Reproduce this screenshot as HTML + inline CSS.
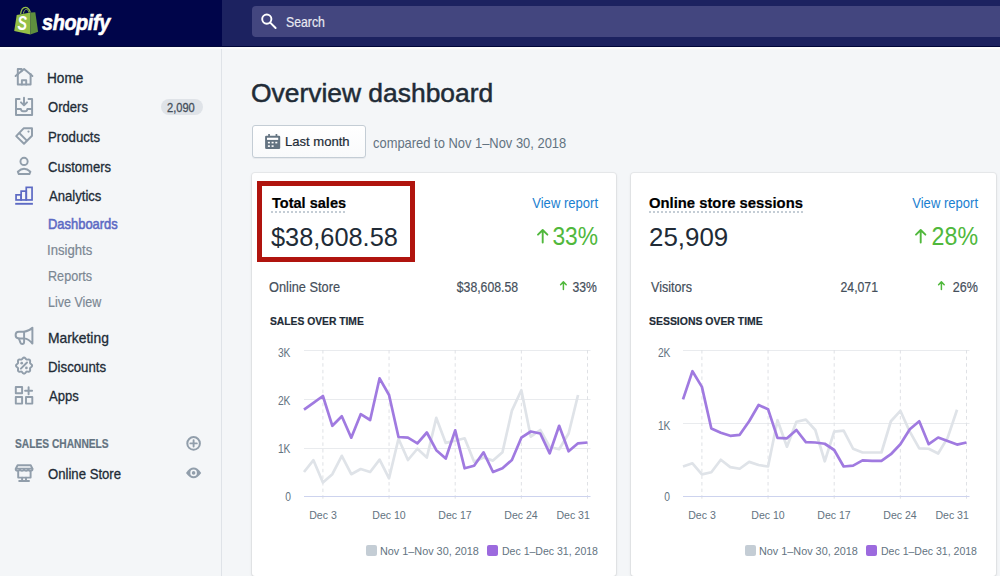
<!DOCTYPE html><html><head><meta charset="utf-8"><style>
html,body{margin:0;padding:0;width:1000px;height:576px;overflow:hidden;background:#f4f6f8;font-family:"Liberation Sans", sans-serif;}
.t{position:absolute;white-space:nowrap;-webkit-text-stroke:0.2px currentColor;}
.r{position:absolute;}
</style></head><body>
<div class="r" style="left:0px;top:49px;width:221px;height:527px;background:#f4f6f8;"></div>
<div class="r" style="left:221px;top:49px;width:1px;height:527px;background:#dfe3e8;"></div>
<div class="r" style="left:0px;top:0px;width:1000px;height:46px;background:#1c2260;"></div>
<div class="r" style="left:0px;top:0px;width:222px;height:46px;background:#00054a;"></div>
<div class="r" style="left:0px;top:46px;width:1000px;height:1px;background:#000639;"></div>
<div class="r" style="left:0px;top:47px;width:1000px;height:2px;background:#fbfbfc;"></div>
<div class="r" style="left:252px;top:6px;width:760px;height:30.5px;background:#43467f;border-radius:4px;"></div>
<div class="t" style="top:15.22px;font-size:14.5px;line-height:14.5px;color:#e8e9f1;left:285.68px;transform:scale(0.8471,1.0);transform-origin:0 0;">Search</div>
<div class="t" style="top:11.97px;font-size:22px;line-height:22px;color:#fff;font-weight:700;left:42px;transform:scale(0.9,1.0);transform-origin:0 0;-webkit-text-stroke:0;font-style:italic;letter-spacing:-0.4px;-webkit-text-stroke:0.6px #fff;">shopify</div>
<svg class="r" style="left:0;top:0" width="1000" height="576" viewBox="0 0 1000 576">
<g fill="none" stroke="#fff" stroke-width="1.9">
<circle cx="266.8" cy="19.1" r="4.6"/><path d="M270.2 22.6 L275.6 28" stroke-linecap="round" stroke-width="2"/>
</g>
<g>
<path d="M16.7 15 L30.6 12.6 L30.4 34.4 L14.2 31.1 Z" fill="#95bf47"/>
<path d="M30.6 12.6 L35.3 12.2 L38.1 31.7 L30.4 34.4 Z" fill="#5e8e3e"/>
<path d="M20.6 14.2 C21.2 9.6 23.2 7.4 25.3 7.4 C27.4 7.4 29.4 9.2 30.2 12.4" fill="none" stroke="#95bf47" stroke-width="1.3"/>
<path d="M23.3 13.6 C23.8 11 24.8 9.6 26.3 9.4 C27.6 9.3 28.4 10.4 28.8 12.6" fill="none" stroke="#95bf47" stroke-width="0.9"/>
<text transform="translate(17.6 30.4) scale(0.74 1)" font-family="Liberation Sans" font-weight="700" font-style="italic" font-size="19.3" fill="#fff">S</text>
</g>
<g fill="none" stroke="#919eab" stroke-width="1.95" stroke-linejoin="round" stroke-linecap="round">
<path d="M15.6 76 L24.1 68.9 L32.4 76"/>
<path d="M17.8 73.5 V84.4 H30.6 V74"/>
<path d="M21.9 84.4 V80.3 H26.2 V84.4"/>
<path d="M17.8 74 V69 H21.6 V71.2"/>
<path d="M19.6 99 H16 V114.9 H32.1 V99 H28.5"/>
<path d="M24 97.7 V105.2 M21 102.4 L24 105.4 L27 102.4"/>
<path d="M16 108.9 H20.8 Q21.3 111.3 23 111.3 H25.3 Q27 111.3 27.4 108.9 H32.1"/>
<path d="M23.6 128.3 H32 V135.8 L24 143.8 L16.2 136.1 Z"/>
<path d="M19.5 133.2 L26.6 140.4"/>
<circle cx="24.06" cy="161.4" r="3.6"/>
<path d="M17.8 171.7 Q24 166 30.4 171.7 L29.4 174 H18.8 Z"/>

<path d="M32.4 327.8 V343.6 Q29 339 24.1 338.4 H18.8 Q15.6 338.4 15.6 335 Q15.6 331.7 18.8 331.7 H24.1 Q29 331.2 32.4 327.8 Z"/>
<path d="M24.1 331.7 V342 Q24.1 344 22.2 344 Q20.9 344 20.4 342.7 L18.9 338.5"/>
<path d="M24.06 357.55 L24.58 357.67 L25.06 357.99 L25.48 358.44 L25.85 358.91 L26.20 359.30 L26.57 359.55 L27.00 359.64 L27.52 359.60 L28.12 359.53 L28.73 359.51 L29.30 359.62 L29.75 359.91 L30.04 360.36 L30.15 360.93 L30.13 361.54 L30.06 362.14 L30.02 362.66 L30.11 363.09 L30.36 363.46 L30.75 363.81 L31.22 364.18 L31.67 364.60 L31.99 365.08 L32.11 365.60 L31.99 366.12 L31.67 366.60 L31.22 367.02 L30.75 367.39 L30.36 367.74 L30.11 368.11 L30.02 368.54 L30.06 369.06 L30.13 369.66 L30.15 370.27 L30.04 370.84 L29.75 371.29 L29.30 371.58 L28.73 371.69 L28.12 371.67 L27.52 371.60 L27.00 371.56 L26.57 371.65 L26.20 371.90 L25.85 372.29 L25.48 372.76 L25.06 373.21 L24.58 373.53 L24.06 373.65 L23.54 373.53 L23.06 373.21 L22.64 372.76 L22.27 372.29 L21.92 371.90 L21.55 371.65 L21.12 371.56 L20.60 371.60 L20.00 371.67 L19.39 371.69 L18.82 371.58 L18.37 371.29 L18.08 370.84 L17.97 370.27 L17.99 369.66 L18.06 369.06 L18.10 368.54 L18.01 368.11 L17.76 367.74 L17.37 367.39 L16.90 367.02 L16.45 366.60 L16.13 366.12 L16.01 365.60 L16.13 365.08 L16.45 364.60 L16.90 364.18 L17.37 363.81 L17.76 363.46 L18.01 363.09 L18.10 362.66 L18.06 362.14 L17.99 361.54 L17.97 360.93 L18.08 360.36 L18.37 359.91 L18.82 359.62 L19.39 359.51 L20.00 359.53 L20.60 359.60 L21.12 359.64 L21.55 359.55 L21.92 359.30 L22.27 358.91 L22.64 358.44 L23.06 357.99 L23.54 357.67 Z"/>
<path d="M20.9 368.6 L27 362.5" stroke-linecap="round"/>
<rect x="15.8" y="386.9" width="6.3" height="6.3"/>
<rect x="15.8" y="397" width="6.3" height="6.6"/>
<rect x="26" y="397" width="6.3" height="6.6"/>
<path d="M25.1 390.7 H32.1 M28.6 387.2 V394.2"/>
<path d="M17.6 465.3 H30.8 L32.5 469 Q32.5 470.8 30.6 470.8 Q28.6 470.8 28.3 469 Q28 470.8 26.2 470.8 Q24.3 470.8 24.1 469 Q23.9 470.8 22 470.8 Q20.1 470.8 19.9 469 Q19.5 470.8 17.6 470.8 Q15.7 470.8 15.7 469 Z" stroke-linejoin="round"/>
<path d="M16 468.6 H32.3"/>
<path d="M18.2 471.5 V477.6 H30.6 V471.5"/>
<path d="M22.1 477.6 V480.6 M26 477.6 V480.6 M19.2 480.9 H29"/>
<circle cx="193.6" cy="443.4" r="6.3" stroke-width="2"/>
<path d="M193.6 440.2 V446.6 M190.4 443.4 H196.8" stroke-width="1.9"/>
</g>
<g fill="#919eab">
<circle cx="21.7" cy="363.2" r="1.35"/><circle cx="26.4" cy="367.9" r="1.35"/>
<circle cx="28.5" cy="131.6" r="1.1"/>
<path d="M186 472.9 Q193.6 462.3 201.2 472.9 Q193.6 483.5 186 472.9 Z"/>
</g>
<circle cx="193.6" cy="472.9" r="3.3" fill="#f4f6f8"/><circle cx="193.6" cy="472.9" r="1.8" fill="#919eab"/>
<g fill="none" stroke="#5c6ac4" stroke-width="1.7">
<rect x="16.05" y="194.85" width="5.1" height="5.1"/>
<rect x="21.15" y="191.15" width="5.1" height="8.8"/>
<rect x="26.25" y="187.35" width="5.8" height="12.6"/>
<path d="M15.2 203.8 H32.9" stroke-width="1.9"/>
</g>
</svg>
<div class="t" style="top:71.02px;font-size:14.5px;line-height:14.5px;color:#212b36;left:47.43px;transform:scale(0.9374,1.0);transform-origin:0 0;-webkit-text-stroke:0.3px #212b36;">Home</div>
<div class="t" style="top:100.42px;font-size:14.5px;line-height:14.5px;color:#212b36;left:48.41px;transform:scale(0.9014,1.0);transform-origin:0 0;-webkit-text-stroke:0.3px #212b36;">Orders</div>
<div class="t" style="top:130.02px;font-size:14.5px;line-height:14.5px;color:#212b36;left:47.73px;transform:scale(0.9103,1.0);transform-origin:0 0;-webkit-text-stroke:0.3px #212b36;">Products</div>
<div class="t" style="top:160.02px;font-size:14.5px;line-height:14.5px;color:#212b36;left:47.78px;transform:scale(0.8997,1.0);transform-origin:0 0;-webkit-text-stroke:0.3px #212b36;">Customers</div>
<div class="t" style="top:189.42px;font-size:14.5px;line-height:14.5px;color:#212b36;left:48.72px;transform:scale(0.903,1.0);transform-origin:0 0;-webkit-text-stroke:0.3px #212b36;">Analytics</div>
<div class="t" style="top:216.72px;font-size:14.5px;line-height:14.5px;color:#5c6ac4;left:48.0px;transform:scale(0.8919,1.0);transform-origin:0 0;-webkit-text-stroke:0.55px #5c6ac4;">Dashboards</div>
<div class="t" style="top:242.82px;font-size:14.5px;line-height:14.5px;color:#7b8793;left:47.28px;transform:scale(0.9049,1.0);transform-origin:0 0;">Insights</div>
<div class="t" style="top:268.82px;font-size:14.5px;line-height:14.5px;color:#7b8793;left:47.84px;transform:scale(0.8702,1.0);transform-origin:0 0;">Reports</div>
<div class="t" style="top:294.82px;font-size:14.5px;line-height:14.5px;color:#7b8793;left:47.96px;transform:scale(0.8613,1.0);transform-origin:0 0;">Live View</div>
<div class="t" style="top:330.72px;font-size:14.5px;line-height:14.5px;color:#212b36;left:47.76px;transform:scale(0.9555,1.0);transform-origin:0 0;-webkit-text-stroke:0.3px #212b36;">Marketing</div>
<div class="t" style="top:359.92px;font-size:14.5px;line-height:14.5px;color:#212b36;left:47.77px;transform:scale(0.9136,1.0);transform-origin:0 0;-webkit-text-stroke:0.3px #212b36;">Discounts</div>
<div class="t" style="top:389.32px;font-size:14.5px;line-height:14.5px;color:#212b36;left:48.72px;transform:scale(0.9006,1.0);transform-origin:0 0;-webkit-text-stroke:0.3px #212b36;">Apps</div>
<div class="t" style="top:437.94px;font-size:12px;line-height:12px;color:#637381;font-weight:700;left:14.6px;transform:scale(0.8515,1.0);transform-origin:0 0;">SALES CHANNELS</div>
<div class="t" style="top:467.32px;font-size:14.5px;line-height:14.5px;color:#212b36;left:47.8px;transform:scale(0.9062,1.0);transform-origin:0 0;-webkit-text-stroke:0.3px #212b36;">Online Store</div>
<div class="r" style="left:161px;top:99px;width:42px;height:16px;background:#dfe3e8;border-radius:8px;"></div>
<div class="t" style="top:101.59px;font-size:12.3px;line-height:12.3px;color:#454f5b;left:167.42px;transform:scale(0.9023,1.0);transform-origin:0 0;-webkit-text-stroke:0.3px #454f5b;">2,090</div>
<div class="t" style="top:80.05px;font-size:26.4px;line-height:26.4px;color:#212b36;left:251.35px;transform:scale(1.0005,1.0);transform-origin:0 0;-webkit-text-stroke:0;-webkit-text-stroke:0.5px #212b36;">Overview dashboard</div>
<div class="r" style="left:252px;top:125px;width:114px;height:33px;background:linear-gradient(#fff,#f9fafb);box-sizing:border-box;border:1px solid #c4cdd5;border-radius:3px;box-shadow:0 1px 0 0 rgba(22,29,37,.05);"></div>
<svg class="r" style="left:0;top:0" width="400" height="200" viewBox="0 0 400 200">
<rect x="265.1" y="135.8" width="15.1" height="13.1" rx="1.2" fill="#637381"/>
<rect x="268.2" y="134" width="1.7" height="3" fill="#637381"/><rect x="275.6" y="134" width="1.7" height="3" fill="#637381"/>
<g fill="#fff"><rect x="267" y="137.7" width="11.2" height="2.2"/>
<rect x="267.9" y="141.8" width="2" height="1.6"/><rect x="271.6" y="141.8" width="2" height="1.6"/><rect x="275.3" y="141.8" width="2" height="1.6"/>
<rect x="267.9" y="145.3" width="2" height="1.6"/><rect x="271.6" y="145.3" width="2" height="1.6"/></g>
</svg>
<div class="t" style="top:135.47px;font-size:13.5px;line-height:13.5px;color:#212b36;left:285.42px;transform:scale(0.9672,1.0);transform-origin:0 0;">Last month</div>
<div class="t" style="top:135.67px;font-size:14.8px;line-height:14.8px;color:#637381;left:372.86px;transform:scale(0.8731,1.0);transform-origin:0 0;-webkit-text-stroke:0;">compared to Nov 1–Nov 30, 2018</div>
<div class="r" style="left:252px;top:173px;width:364px;height:403px;background:#fff;border-radius:3px;box-shadow:0 0 0 1px rgba(63,63,68,.06),0 1px 3px 0 rgba(63,63,68,.15);"></div>
<div class="t" style="top:194.98px;font-size:15.5px;line-height:15.5px;color:#000;font-weight:700;left:271.6px;transform:scale(0.938,1.0);transform-origin:0 0;">Total sales</div>
<div class="r" style="left:271px;top:211px;width:75px;height:1.5px;background:repeating-linear-gradient(90deg,#c4cdd5 0 2px,transparent 2px 4px);"></div>
<div class="t" style="top:196.26px;font-size:14.1px;line-height:14.1px;color:#1a80d0;right:402.45px;transform:scale(0.926,1.0);transform-origin:100% 0;-webkit-text-stroke:0;">View report</div>
<div class="t" style="top:224.93px;font-size:25px;line-height:25px;color:#212b36;left:270.84000000000003px;transform:scale(1.0136,1.0);transform-origin:0 0;-webkit-text-stroke:0;">$38,608.58</div>
<div class="t" style="top:223.91px;font-size:25.5px;line-height:25.5px;color:#50b83c;right:401.67px;transform:scale(0.8942,1.0);transform-origin:100% 0;-webkit-text-stroke:0;">33%</div>
<div class="t" style="top:280.41px;font-size:14.4px;line-height:14.4px;color:#454f5b;left:269.36px;transform:scale(0.8884,1.0);transform-origin:0 0;">Online Store</div>
<div class="t" style="top:280.31px;font-size:14.4px;line-height:14.4px;color:#454f5b;right:482.27px;transform:scale(0.8503,1.0);transform-origin:100% 0;">$38,608.58</div>
<div class="t" style="top:280.31px;font-size:14.4px;line-height:14.4px;color:#454f5b;right:403.00px;transform:scale(0.8459,1.0);transform-origin:100% 0;">33%</div>
<div class="t" style="top:316.11px;font-size:11.8px;line-height:11.8px;color:#212b36;font-weight:700;left:270.06px;transform:scale(0.8726,1.0);transform-origin:0 0;">SALES OVER TIME</div>
<svg class="r" style="left:0;top:0" width="1000" height="576" viewBox="0 0 1000 576"><g fill="none" stroke="#50b83c" stroke-linecap="round" stroke-linejoin="round">
<path d="M542.7 242.6 V230.4 M538.0 234.7 L542.7 230.0 L547.4 234.7" stroke-width="1.9"/>
<path d="M563.4 289.5 V282.2 M560.6 284.7 L563.4 281.9 L566.2 284.7" stroke-width="1.5"/>
</g></svg>
<div class="r" style="left:631px;top:173px;width:365px;height:403px;background:#fff;border-radius:3px;box-shadow:0 0 0 1px rgba(63,63,68,.06),0 1px 3px 0 rgba(63,63,68,.15);"></div>
<div class="t" style="top:194.98px;font-size:15.5px;line-height:15.5px;color:#000;font-weight:700;left:649.1700000000001px;transform:scale(0.9556,1.0);transform-origin:0 0;">Online store sessions</div>
<div class="r" style="left:649px;top:211px;width:154px;height:1.5px;background:repeating-linear-gradient(90deg,#c4cdd5 0 2px,transparent 2px 4px);"></div>
<div class="t" style="top:196.26px;font-size:14.1px;line-height:14.1px;color:#1a80d0;right:22.45px;transform:scale(0.926,1.0);transform-origin:100% 0;-webkit-text-stroke:0;">View report</div>
<div class="t" style="top:224.93px;font-size:25px;line-height:25px;color:#212b36;left:649.48px;transform:scale(1.0362,1.0);transform-origin:0 0;-webkit-text-stroke:0;">25,909</div>
<div class="t" style="top:223.91px;font-size:25.5px;line-height:25.5px;color:#50b83c;right:22.08px;transform:scale(0.9105,1.0);transform-origin:100% 0;-webkit-text-stroke:0;">28%</div>
<div class="t" style="top:280.41px;font-size:14.4px;line-height:14.4px;color:#454f5b;left:650.7px;transform:scale(0.8721,1.0);transform-origin:0 0;">Visitors</div>
<div class="t" style="top:280.31px;font-size:14.4px;line-height:14.4px;color:#454f5b;right:122.40px;transform:scale(0.8526,1.0);transform-origin:100% 0;">24,071</div>
<div class="t" style="top:280.31px;font-size:14.4px;line-height:14.4px;color:#454f5b;right:22.47px;transform:scale(0.8716,1.0);transform-origin:100% 0;">26%</div>
<div class="t" style="top:316.11px;font-size:11.8px;line-height:11.8px;color:#212b36;font-weight:700;left:649.02px;transform:scale(0.8854,1.0);transform-origin:0 0;">SESSIONS OVER TIME</div>
<svg class="r" style="left:0;top:0" width="1000" height="576" viewBox="0 0 1000 576"><g fill="none" stroke="#50b83c" stroke-linecap="round" stroke-linejoin="round">
<path d="M920.7 242.6 V230.4 M916.0 234.7 L920.7 230.0 L925.4 234.7" stroke-width="1.9"/>
<path d="M941.4 289.5 V282.2 M938.6 284.7 L941.4 281.9 L944.2 284.7" stroke-width="1.5"/>
</g></svg>
<svg class="r" style="left:0px;top:0px" width="1000" height="576" viewBox="0 0 1000 576"><line x1="304" y1="350.5" x2="590.5" y2="350.5" stroke="#e9ebee" stroke-width="1"/><line x1="304" y1="399.5" x2="590.5" y2="399.5" stroke="#e9ebee" stroke-width="1"/><line x1="304" y1="448.5" x2="590.5" y2="448.5" stroke="#e9ebee" stroke-width="1"/><line x1="322.90" y1="350" x2="322.90" y2="500" stroke="#dfe1e5" stroke-width="1" stroke-dasharray="3.5 3.1"/><line x1="389.05" y1="350" x2="389.05" y2="500" stroke="#dfe1e5" stroke-width="1" stroke-dasharray="3.5 3.1"/><line x1="455.20" y1="350" x2="455.20" y2="500" stroke="#dfe1e5" stroke-width="1" stroke-dasharray="3.5 3.1"/><line x1="521.35" y1="350" x2="521.35" y2="500" stroke="#dfe1e5" stroke-width="1" stroke-dasharray="3.5 3.1"/><line x1="587.50" y1="350" x2="587.50" y2="500" stroke="#dfe1e5" stroke-width="1" stroke-dasharray="3.5 3.1"/><line x1="304" y1="496.5" x2="590.5" y2="496.5" stroke="#cdd3ee" stroke-width="1"/><polyline points="304.00,472 313.45,460.2 322.90,482.5 332.35,474.2 341.80,455.8 351.25,474.2 360.70,469 370.15,472 379.60,459.6 389.05,478.3 398.50,438.75 407.95,460 417.40,448.75 426.85,457.5 436.30,417.9 445.75,442.9 455.20,440.8 464.65,438.3 474.10,461.7 483.55,457.5 493.00,460.6 502.45,452.3 511.90,410.6 521.35,390.2 530.80,436.7 540.25,430 549.70,447 559.15,449.2 568.60,433.5 578.05,395" fill="none" stroke="#dfe3e8" stroke-width="2.7" stroke-linejoin="round"/><polyline points="304.00,409.6 313.45,402.9 322.90,396 332.35,425.8 341.80,416.3 351.25,437.7 360.70,414.2 370.15,420 379.60,378.3 389.05,395 398.50,437 407.95,437.7 417.40,443.3 426.85,432.5 436.30,450.2 445.75,458.5 455.20,430.4 464.65,468.3 474.10,465.8 483.55,452.3 493.00,472 502.45,468.3 511.90,460 521.35,437.7 530.80,431.5 540.25,433.5 549.70,453.3 559.15,425.8 568.60,451.25 578.05,443.3 587.50,442.5" fill="none" stroke="#a07ae0" stroke-width="2.7" stroke-linejoin="round"/></svg>
<div class="t" style="top:346.63px;font-size:12.6px;line-height:12.6px;color:#637381;right:709.11px;transform:scale(0.8131,1.0);transform-origin:100% 0;-webkit-text-stroke:0;">3K</div>
<div class="t" style="top:395.43px;font-size:12.6px;line-height:12.6px;color:#637381;right:709.11px;transform:scale(0.8131,1.0);transform-origin:100% 0;-webkit-text-stroke:0;">2K</div>
<div class="t" style="top:443.33px;font-size:12.6px;line-height:12.6px;color:#637381;right:709.11px;transform:scale(0.8131,1.0);transform-origin:100% 0;-webkit-text-stroke:0;">1K</div>
<div class="t" style="top:491.43px;font-size:12.6px;line-height:12.6px;color:#637381;right:709.11px;transform:scale(0.8131,1.0);transform-origin:100% 0;-webkit-text-stroke:0;">0</div>
<div class="t" style="left:282.90px;width:80px;text-align:center;top:509.99px;font-size:11px;line-height:11px;color:#637381;transform:scaleX(0.96);-webkit-text-stroke:0;">Dec 3</div>
<div class="t" style="left:349.05px;width:80px;text-align:center;top:509.99px;font-size:11px;line-height:11px;color:#637381;transform:scaleX(0.96);-webkit-text-stroke:0;">Dec 10</div>
<div class="t" style="left:415.20px;width:80px;text-align:center;top:509.99px;font-size:11px;line-height:11px;color:#637381;transform:scaleX(0.96);-webkit-text-stroke:0;">Dec 17</div>
<div class="t" style="left:481.35px;width:80px;text-align:center;top:509.99px;font-size:11px;line-height:11px;color:#637381;transform:scaleX(0.96);-webkit-text-stroke:0;">Dec 24</div>
<div class="t" style="top:509.99px;font-size:11px;line-height:11px;color:#637381;right:409.87px;transform:scale(0.96,1.0);transform-origin:100% 0;-webkit-text-stroke:0;">Dec 31</div>
<div class="r" style="left:366px;top:545.2px;width:10.5px;height:10.5px;background:#c4cdd5;border-radius:2px;"></div>
<div class="t" style="top:545.56px;font-size:10.8px;line-height:10.8px;color:#637381;left:379.8px;transform:scale(1.0035,1.0);transform-origin:0 0;-webkit-text-stroke:0;">Nov 1–Nov 30, 2018</div>
<div class="r" style="left:487px;top:545.2px;width:10.5px;height:10.5px;background:#9c6ade;border-radius:2px;"></div>
<div class="t" style="top:545.56px;font-size:10.8px;line-height:10.8px;color:#637381;left:501.69px;transform:scale(0.975,1.0);transform-origin:0 0;-webkit-text-stroke:0;">Dec 1–Dec 31, 2018</div>
<svg class="r" style="left:0px;top:0px" width="1000" height="576" viewBox="0 0 1000 576"><line x1="683" y1="350.5" x2="969.5" y2="350.5" stroke="#e9ebee" stroke-width="1"/><line x1="683" y1="423.5" x2="969.5" y2="423.5" stroke="#e9ebee" stroke-width="1"/><line x1="701.90" y1="350" x2="701.90" y2="500" stroke="#dfe1e5" stroke-width="1" stroke-dasharray="3.5 3.1"/><line x1="768.05" y1="350" x2="768.05" y2="500" stroke="#dfe1e5" stroke-width="1" stroke-dasharray="3.5 3.1"/><line x1="834.20" y1="350" x2="834.20" y2="500" stroke="#dfe1e5" stroke-width="1" stroke-dasharray="3.5 3.1"/><line x1="900.35" y1="350" x2="900.35" y2="500" stroke="#dfe1e5" stroke-width="1" stroke-dasharray="3.5 3.1"/><line x1="966.50" y1="350" x2="966.50" y2="500" stroke="#dfe1e5" stroke-width="1" stroke-dasharray="3.5 3.1"/><line x1="683" y1="496.5" x2="969.5" y2="496.5" stroke="#cdd3ee" stroke-width="1"/><polyline points="683.00,466.5 692.45,463.3 701.90,474.4 711.35,472.3 720.80,459.8 730.25,467.1 739.70,468.75 749.15,461.9 758.60,465 768.05,466.5 777.50,420.2 786.95,446.7 796.40,421.7 805.85,419.6 815.30,430 824.75,461.25 834.20,431.7 843.65,430.6 853.10,448.75 862.55,452.5 872.00,452.5 881.45,452.5 890.90,421.25 900.35,410.8 909.80,431.7 919.25,448.3 928.70,448.75 938.15,453.5 947.60,437.9 957.05,409.8" fill="none" stroke="#dfe3e8" stroke-width="2.7" stroke-linejoin="round"/><polyline points="683.00,399.4 692.45,371.25 701.90,386.9 711.35,428.5 720.80,432.7 730.25,435.8 739.70,434.8 749.15,421.25 758.60,405 768.05,409.2 777.50,437.9 786.95,438.3 796.40,430 805.85,442.1 815.30,442.5 824.75,443.75 834.20,450 843.65,466.5 853.10,465.6 862.55,460.4 872.00,460.8 881.45,460.8 890.90,454.2 900.35,444.2 909.80,429.2 919.25,421.25 928.70,444.2 938.15,437.5 947.60,441 957.05,444.6 966.50,442.5" fill="none" stroke="#a07ae0" stroke-width="2.7" stroke-linejoin="round"/></svg>
<div class="t" style="top:346.63px;font-size:12.6px;line-height:12.6px;color:#637381;right:329.71px;transform:scale(0.8131,1.0);transform-origin:100% 0;-webkit-text-stroke:0;">2K</div>
<div class="t" style="top:419.83px;font-size:12.6px;line-height:12.6px;color:#637381;right:329.71px;transform:scale(0.8131,1.0);transform-origin:100% 0;-webkit-text-stroke:0;">1K</div>
<div class="t" style="top:491.43px;font-size:12.6px;line-height:12.6px;color:#637381;right:329.71px;transform:scale(0.8131,1.0);transform-origin:100% 0;-webkit-text-stroke:0;">0</div>
<div class="t" style="left:661.90px;width:80px;text-align:center;top:509.99px;font-size:11px;line-height:11px;color:#637381;transform:scaleX(0.96);-webkit-text-stroke:0;">Dec 3</div>
<div class="t" style="left:728.05px;width:80px;text-align:center;top:509.99px;font-size:11px;line-height:11px;color:#637381;transform:scaleX(0.96);-webkit-text-stroke:0;">Dec 10</div>
<div class="t" style="left:794.20px;width:80px;text-align:center;top:509.99px;font-size:11px;line-height:11px;color:#637381;transform:scaleX(0.96);-webkit-text-stroke:0;">Dec 17</div>
<div class="t" style="left:860.35px;width:80px;text-align:center;top:509.99px;font-size:11px;line-height:11px;color:#637381;transform:scaleX(0.96);-webkit-text-stroke:0;">Dec 24</div>
<div class="t" style="top:509.99px;font-size:11px;line-height:11px;color:#637381;right:30.87px;transform:scale(0.96,1.0);transform-origin:100% 0;-webkit-text-stroke:0;">Dec 31</div>
<div class="r" style="left:745px;top:545.2px;width:10.5px;height:10.5px;background:#c4cdd5;border-radius:2px;"></div>
<div class="t" style="top:545.56px;font-size:10.8px;line-height:10.8px;color:#637381;left:758.8000000000001px;transform:scale(1.0035,1.0);transform-origin:0 0;-webkit-text-stroke:0;">Nov 1–Nov 30, 2018</div>
<div class="r" style="left:866px;top:545.2px;width:10.5px;height:10.5px;background:#9c6ade;border-radius:2px;"></div>
<div class="t" style="top:545.56px;font-size:10.8px;line-height:10.8px;color:#637381;left:880.69px;transform:scale(0.975,1.0);transform-origin:0 0;-webkit-text-stroke:0;">Dec 1–Dec 31, 2018</div>
<div class="r" style="left:257px;top:181px;width:158px;height:81px;background:transparent;box-sizing:border-box;border:5px solid #b0140e;"></div>
</body></html>
